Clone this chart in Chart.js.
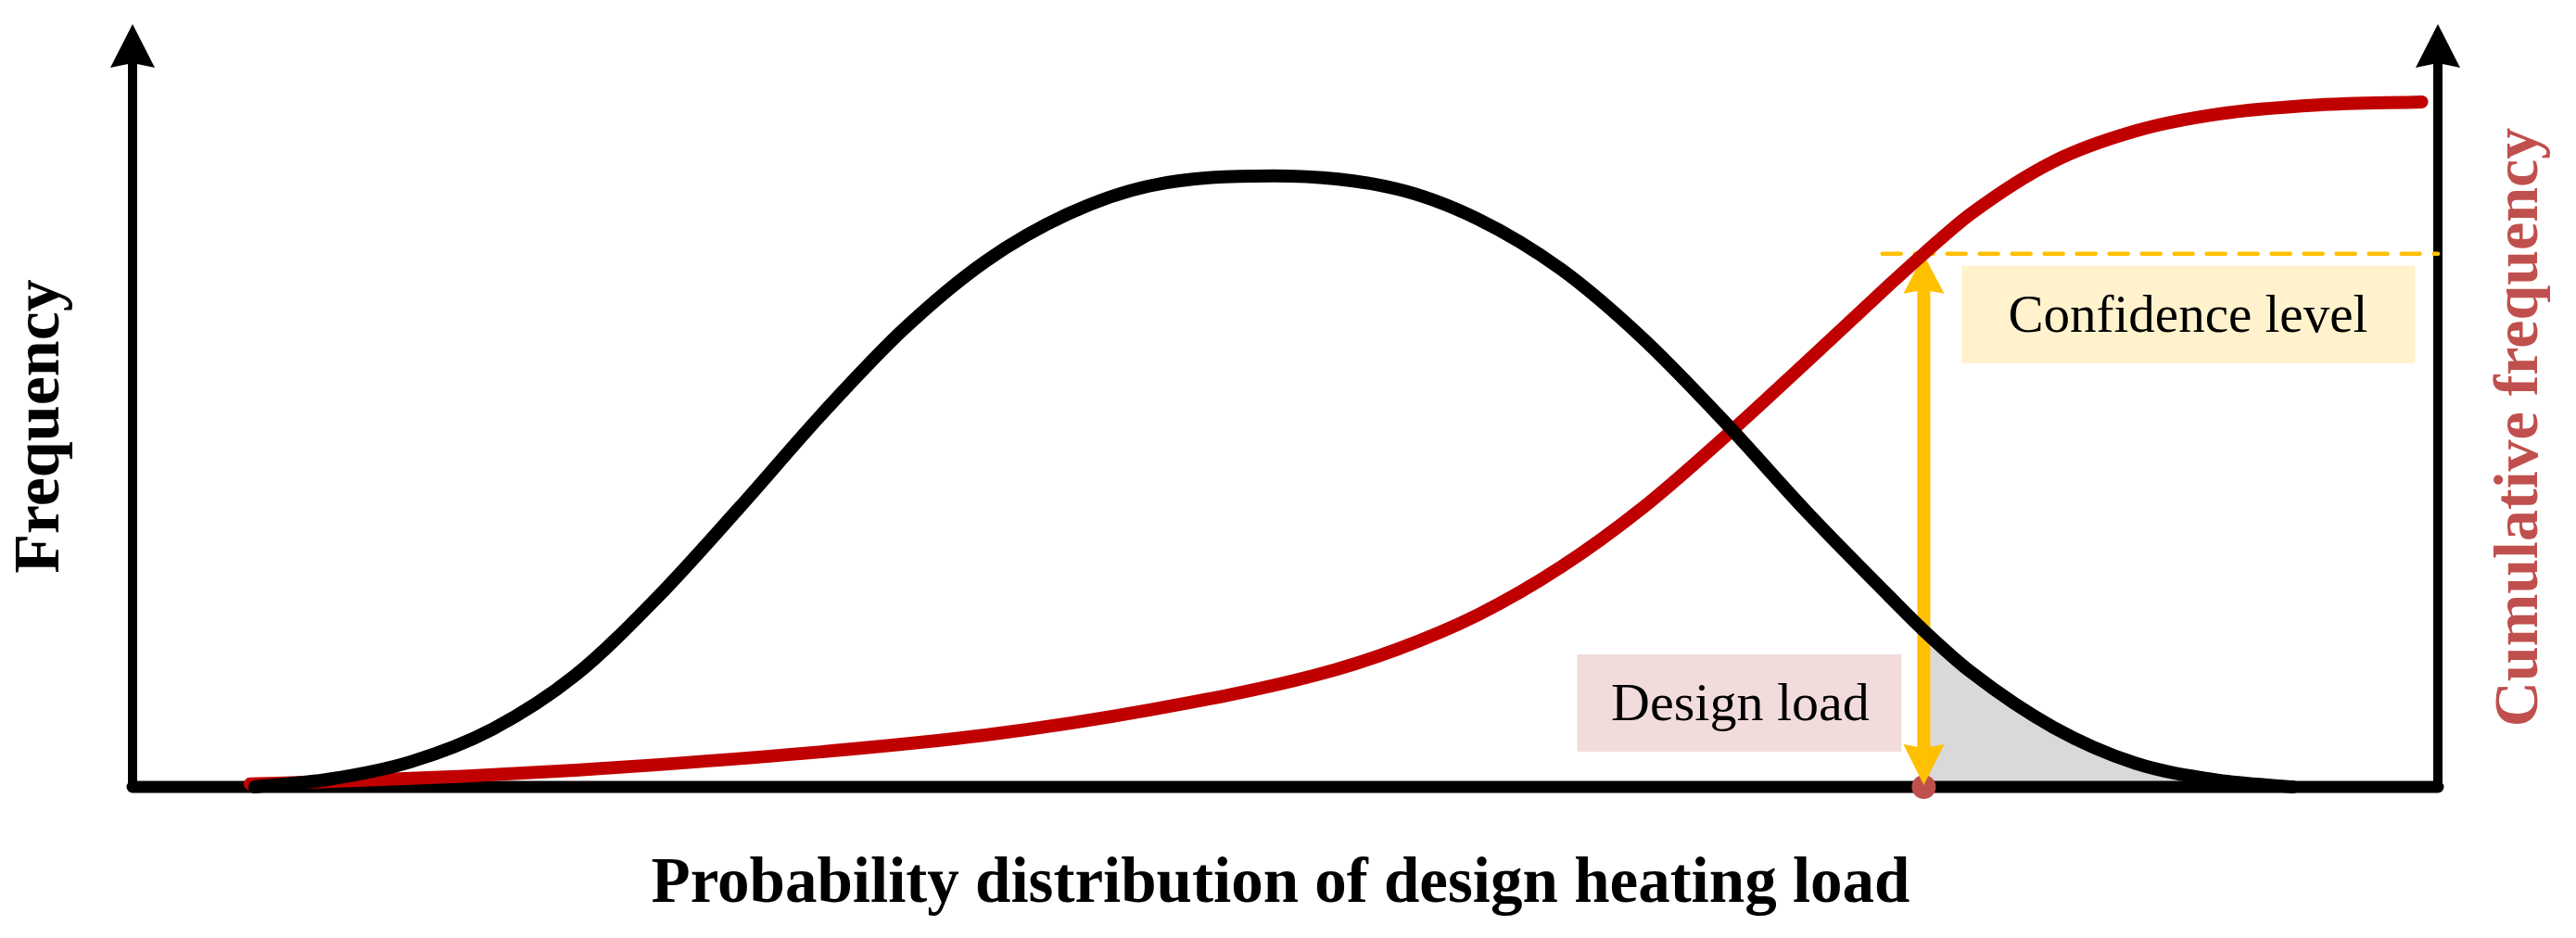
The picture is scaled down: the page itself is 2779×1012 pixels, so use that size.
<!DOCTYPE html>
<html>
<head>
<meta charset="utf-8">
<script src="https://cdn.jsdelivr.net/npm/chart.js@4.4.1/dist/chart.umd.min.js"></script>
<style>
  body { margin: 0; background: #fff; }
</style>
</head>
<body>
<canvas id="Distribution" width="2779" height="1012"></canvas>
<script>
// values, axes normalised to 0..100
const frequencyX = [5.3, 8.5, 12.07, 15.63, 19.19, 22.75, 26.32, 29.88, 33.45, 37.0, 40.57, 44.13, 49.48, 54.82, 58.39, 61.95, 65.51, 69.08, 72.64, 76.2, 77.7, 79.77, 83.33, 86.89, 90.45, 93.7];
const frequencyY = [0, 1.0, 3.3, 7.6, 14.6, 24.8, 36.6, 48.8, 60.0, 68.9, 75.1, 78.8, 80.1, 78.4, 74.4, 67.9, 58.8, 47.8, 36.0, 25.0, 20.5, 15.0, 7.8, 3.1, 0.9, 0];

const cumulativeX = [5.1, 8.5, 14.35, 19.19, 22.75, 29.88, 37.0, 44.13, 51.26, 54.82, 58.39, 61.95, 65.51, 69.22, 72.64, 76.2, 77.7, 79.77, 83.33, 86.89, 90.45, 94.8, 99.3];
const cumulativeY = [0.4, 0.7, 1.4, 2.2, 2.9, 4.6, 6.8, 10.1, 14.6, 18.0, 22.6, 28.8, 36.6, 46.3, 55.8, 65.8, 69.9, 75.2, 82.0, 86.0, 88.2, 89.4, 89.8];

const designLoad = 77.7;      // x of the design load
const confidence = 69.9;      // cumulative frequency at the design load
const confidenceFrom = 75.9;  // where the dashed line starts

const xTitle = 'Probability distribution of design heating load';
const yTitle = 'Frequency';
const y2Title = 'Cumulative frequency';
const confidenceLabel = 'Confidence level';
const designLabel = 'Design load';

const serif = '"Liberation Serif", "Times New Roman", serif';

const toPoints = (xs, ys) => xs.map((v, i) => ({ x: v, y: ys[i] }));
const frequency = toPoints(frequencyX, frequencyY);
const tail = frequency.filter(p => p.x >= designLoad);

function arrowHead(ctx, x, tip, dir, len, half, notch) {
    ctx.beginPath();
    ctx.moveTo(x, tip);
    ctx.lineTo(x + half, tip + dir * len);
    ctx.lineTo(x, tip + dir * (len - notch));
    ctx.lineTo(x - half, tip + dir * len);
    ctx.closePath();
    ctx.fill();
}

const overlay = {
    id: 'overlay',
    afterDatasetDraw(chart, args) {
        const { ctx, chartArea: a, scales: { x, y } } = chart;
        if (args.index === 0) {
            // axes go over the grey tail
            ctx.save();
            ctx.fillStyle = '#000';
            ctx.strokeStyle = '#000';
            ctx.lineWidth = 10;
            [a.left, a.right].forEach(px => {
                ctx.beginPath();
                ctx.moveTo(px, a.bottom);
                ctx.lineTo(px, a.top + 42);
                ctx.stroke();
                arrowHead(ctx, px, a.top, 1, 47, 24, 5);
            });
            ctx.lineWidth = 13;
            ctx.lineCap = 'round';
            ctx.beginPath();
            ctx.moveTo(a.left, a.bottom);
            ctx.lineTo(a.right, a.bottom);
            ctx.stroke();
            ctx.restore();
        }
        if (args.index === 1) {
            const px = x.getPixelForValue(designLoad);
            const py = y.getPixelForValue(confidence);
            const p0 = y.getPixelForValue(0);
            ctx.save();
            ctx.strokeStyle = '#FFC000';
            ctx.fillStyle = '#FFC000';
            ctx.lineWidth = 4.5;
            ctx.lineCap = 'round';
            ctx.setLineDash([20, 15]);
            ctx.beginPath();
            ctx.moveTo(x.getPixelForValue(confidenceFrom), py);
            ctx.lineTo(a.right, py);
            ctx.stroke();
            ctx.setLineDash([]);
            ctx.lineCap = 'butt';
            ctx.lineWidth = 14;
            ctx.beginPath();
            ctx.moveTo(px, py + 38);
            ctx.lineTo(px, p0 - 40);
            ctx.stroke();
            arrowHead(ctx, px, py + 1, 1, 42, 22, 4);
            arrowHead(ctx, px, p0 - 2, -1, 44, 22, 4);

            // label boxes
            ctx.textAlign = 'center';
            ctx.textBaseline = 'alphabetic';
            ctx.fillStyle = '#FFF2CC';
            ctx.fillRect(px + 41, py + 13, 489, 105);
            ctx.fillStyle = '#000';
            ctx.font = '57px ' + serif;
            ctx.fillText(confidenceLabel, px + 41 + 244, py + 84);
            ctx.fillStyle = '#F2DCDB';
            ctx.fillRect(px - 374, p0 - 143, 350, 105);
            ctx.fillStyle = '#000';
            ctx.font = '58px ' + serif;
            ctx.fillText(designLabel, px - 198, p0 - 72);
            ctx.restore();
        }
    },
    afterDraw(chart) {
        const { ctx, chartArea: a } = chart;
        ctx.save();
        ctx.textAlign = 'center';
        ctx.textBaseline = 'alphabetic';
        ctx.fillStyle = '#000';
        ctx.font = 'bold 69px ' + serif;
        ctx.fillText(xTitle, (a.left + a.right) / 2 - 5, a.bottom + 124);

        ctx.translate(a.left - 80, 460);
        ctx.rotate(-Math.PI / 2);
        ctx.font = 'bold 70px ' + serif;
        ctx.fillText(yTitle, 0, 0);
        ctx.restore();

        ctx.save();
        ctx.textAlign = 'center';
        ctx.fillStyle = '#C0504D';
        ctx.font = 'bold 68px ' + serif;
        ctx.translate(a.right + 107, 461);
        ctx.rotate(-Math.PI / 2);
        ctx.fillText(y2Title, 0, 0);
        ctx.restore();
    }
};

const dtx = document.getElementById('Distribution').getContext('2d');
const Distribution = new Chart(dtx, {
    type: 'line',
    data: {
        datasets: [{
            label: 'tail',
            data: tail,
            borderWidth: 0,
            pointRadius: 0,
            backgroundColor: '#D9D9D9',
            fill: 'origin',
            cubicInterpolationMode: 'monotone',
            clip: false,
            order: 4
        }, {
            label: 'Design load',
            type: 'scatter',
            data: [{ x: designLoad, y: 0 }],
            pointRadius: 13,
            pointBackgroundColor: '#C0504D',
            pointBorderWidth: 0,
            clip: false,
            order: 3
        }, {
            label: 'Cumulative frequency',
            data: toPoints(cumulativeX, cumulativeY),
            borderColor: '#C00000',
            borderWidth: 14,
            borderCapStyle: 'round',
            pointRadius: 0,
            fill: false,
            cubicInterpolationMode: 'monotone',
            clip: false,
            order: 2
        }, {
            label: 'Frequency',
            data: frequency,
            borderColor: '#000000',
            borderWidth: 14,
            borderCapStyle: 'round',
            pointRadius: 0,
            fill: false,
            cubicInterpolationMode: 'monotone',
            clip: false,
            order: 1
        }]
    },
    options: {
        responsive: false,
        animation: false,
        layout: { padding: { left: 143, right: 149, top: 26, bottom: 163 } },
        scales: {
            x: { type: 'linear', min: 0, max: 100, display: false },
            y: { min: 0, max: 100, display: false }
        },
        plugins: {
            legend: { display: false },
            tooltip: { enabled: false }
        }
    },
    plugins: [overlay]
});
</script>
</body>
</html>
